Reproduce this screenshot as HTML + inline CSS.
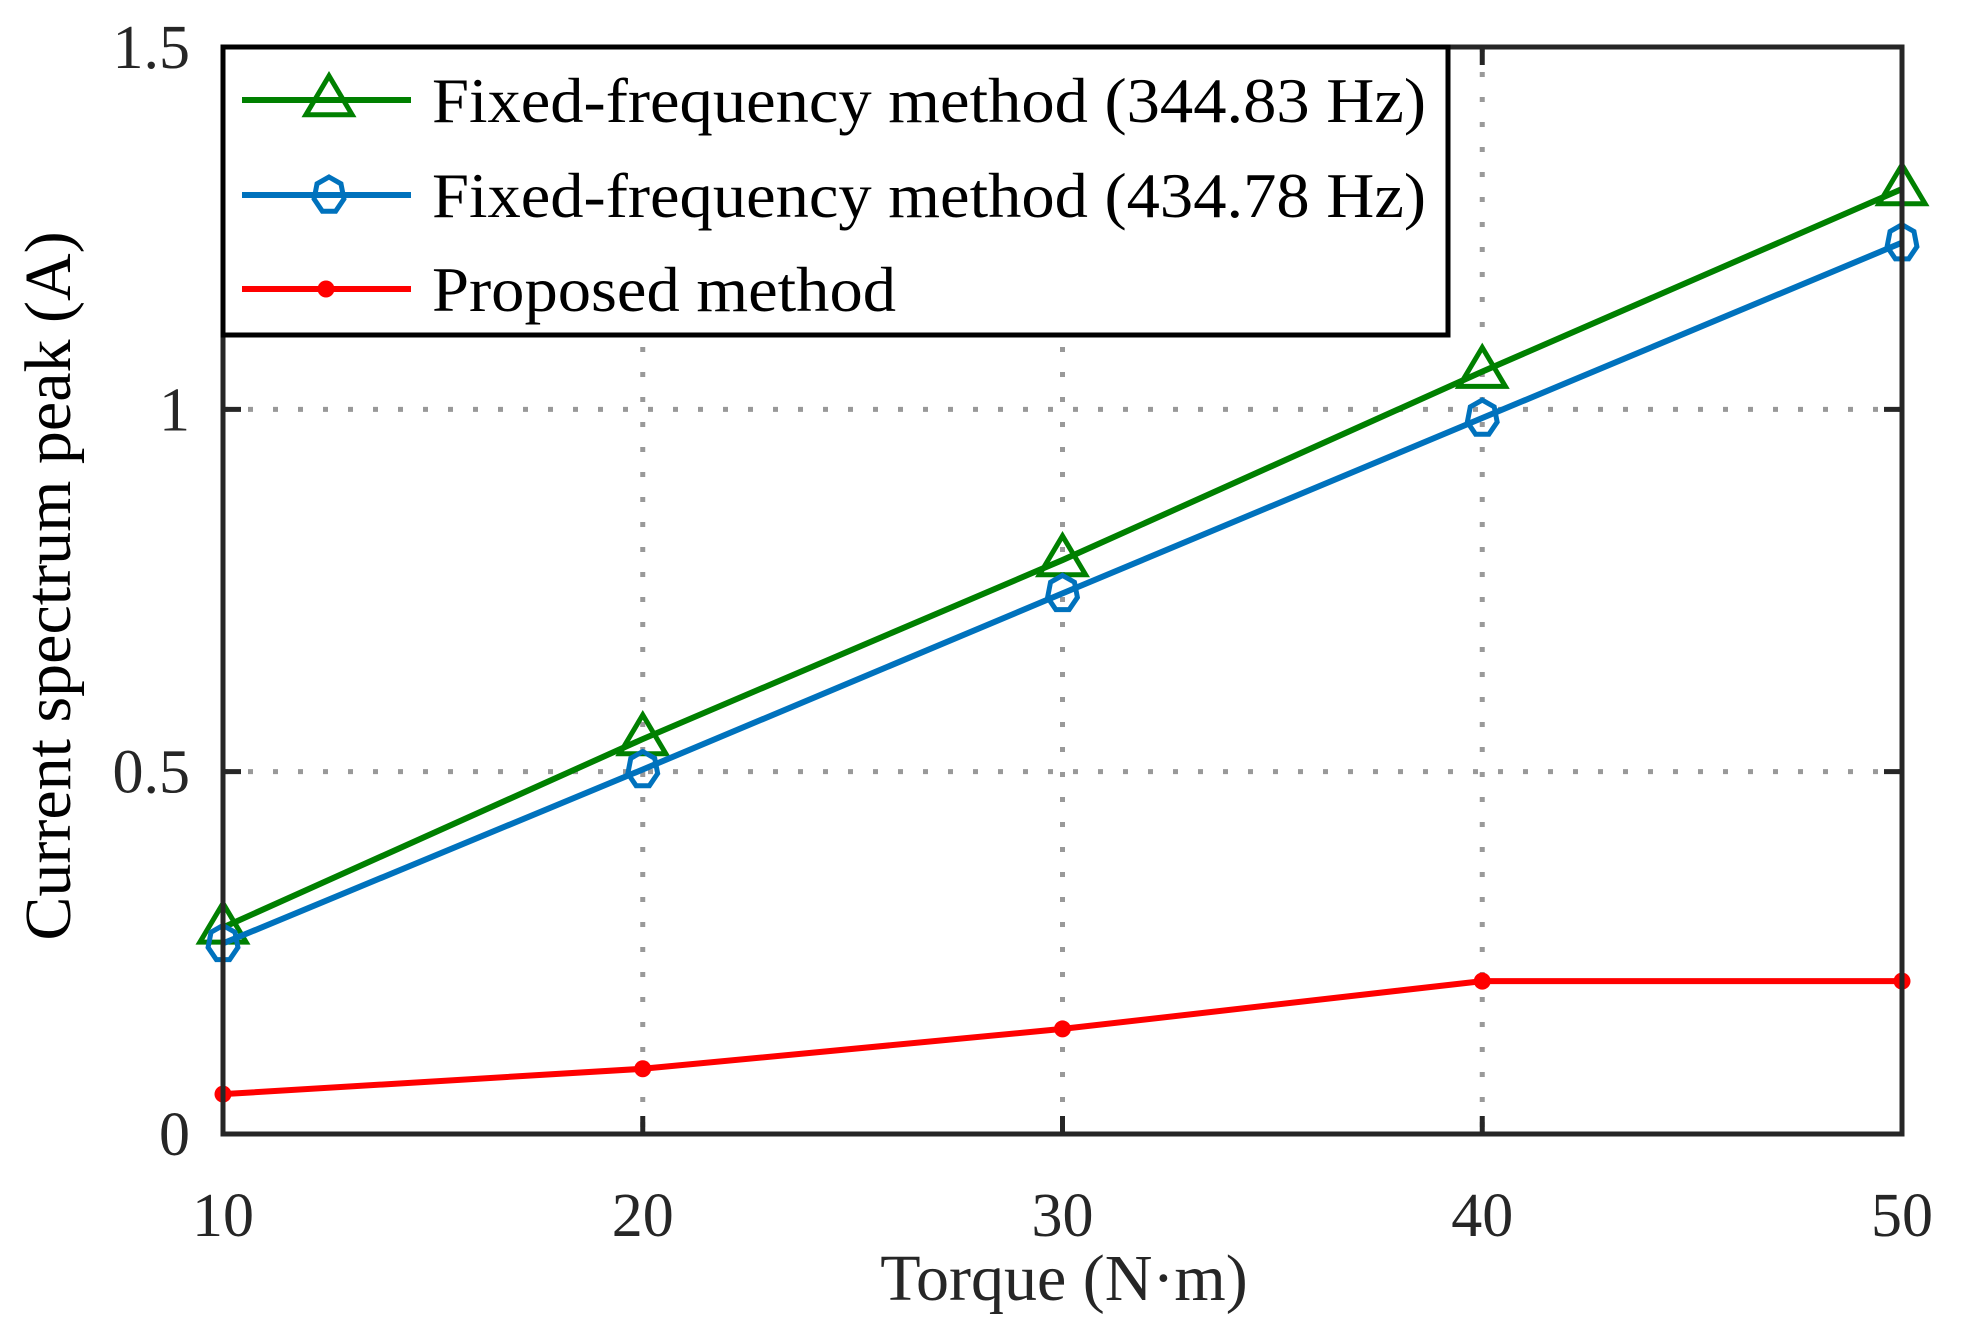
<!DOCTYPE html>
<html><head><meta charset="utf-8"><style>
html,body{margin:0;padding:0;background:#fff;}
svg{display:block;font-family:"Liberation Serif",serif;}
</style></head><body>
<svg id="chart" width="1964" height="1324" viewBox="0 0 1964 1324" xmlns="http://www.w3.org/2000/svg">
<g id="grid"></g>
<g id="series"></g>
<g id="axes"></g>
<g id="legend"></g>
</svg>
<script>
const categories = [10, 20, 30, 40, 50];
const green344 = [0.285, 0.545, 0.792, 1.052, 1.304];
const blue434 = [0.263, 0.503, 0.746, 0.988, 1.230];
const proposed = [0.055, 0.09, 0.145, 0.211, 0.211];
const xTicks = [10, 20, 30, 40, 50];
const yTicks = [0, 0.5, 1, 1.5];
const yTickLabels = ["0", "0.5", "1", "1.5"];

const NS = "http://www.w3.org/2000/svg";
const L = 223, R = 1902, T = 47, B = 1134;
const xS = v => L + (v - 10) / 40 * (R - L);
const yS = v => B - v / 1.5 * (B - T);
function mk(tag, attrs, parent) {
  const e = document.createElementNS(NS, tag);
  for (const k in attrs) e.setAttribute(k, attrs[k]);
  parent.appendChild(e);
  return e;
}
const grid = document.getElementById('grid');
const axes = document.getElementById('axes');
const series = document.getElementById('series');
const legend = document.getElementById('legend');

xTicks.forEach(t => {
  if (t > 10 && t < 50) {
    const g = mk('line', {x1: xS(t), x2: xS(t), y1: T, y2: B, stroke: '#999', 'stroke-width': 5, 'stroke-dasharray': '5 20'}, grid);
    
    
  }
  const tk = mk('path', {d: `M${xS(t)},${B} v-18 M${xS(t)},${T} v18`, stroke: '#262626', 'stroke-width': 5}, axes);
  
  
  const lb = mk('text', {x: xS(t), y: 1236, 'font-size': 62, 'text-anchor': 'middle', fill: '#262626'}, axes);
  lb.textContent = t;
  
  
});
yTicks.forEach((t, i) => {
  if (t > 0 && t < 1.5) {
    const g = mk('line', {x1: L, x2: R, y1: yS(t), y2: yS(t), stroke: '#999', 'stroke-width': 5, 'stroke-dasharray': '5 20'}, grid);
    
    
  }
  const tk = mk('path', {d: `M${L},${yS(t)} h18 M${R},${yS(t)} h-18`, stroke: '#262626', 'stroke-width': 5}, axes);
  
  
  const lb = mk('text', {x: 190, y: yS(t) + 21, 'font-size': 62, 'text-anchor': 'end', fill: '#262626'}, axes);
  lb.textContent = yTickLabels[i];
  
  
});
const frame = mk('rect', {x: L, y: T, width: R - L, height: B - T, fill: 'none', stroke: '#262626', 'stroke-width': 5}, axes);


const xt = mk('text', {x: 1064, y: 1300, 'font-size': 66, 'text-anchor': 'middle', fill: '#262626'}, axes);
xt.textContent = 'Torque (N·m)';


const yt = mk('text', {x: 0, y: 0, 'font-size': 66, 'text-anchor': 'middle', fill: '#000', transform: 'translate(70,586) rotate(-90)'}, axes);
yt.textContent = 'Current spectrum peak (A)';



function tri(x, y, p, color) {
  const s = 21;
  return mk('polygon', {points: `${x},${y - s * 1.15} ${x - s * 1.1},${y + s * 0.7} ${x + s * 1.1},${y + s * 0.7}`, fill: 'none', stroke: color, 'stroke-width': 5}, p);
}
function hept(x, y, p, color) {
  const r = 18, pts = [];
  for (let k = 0; k < 7; k++) { const a = -Math.PI / 2 + k * 2 * Math.PI / 7; pts.push((x + r * 0.85 * Math.cos(a)) + ',' + (y + r * Math.sin(a))); }
  return mk('polygon', {points: pts.join(' '), fill: 'none', stroke: color, 'stroke-width': 5}, p);
}
function dot(x, y, p, color) {
  return mk('circle', {cx: x, cy: y, r: 8.5, fill: color}, p);
}
const defs = [
  {vals: green344, color: '#008000', m: tri, name: 'fixed-344hz'},
  {vals: blue434, color: '#0072BD', m: hept, name: 'fixed-434hz'},
  {vals: proposed, color: '#FF0000', m: dot, name: 'proposed'}
];
defs.forEach(d => {
  const pl = mk('polyline', {points: categories.map((c, i) => xS(c) + ',' + yS(d.vals[i])).join(' '), fill: 'none', stroke: d.color, 'stroke-width': 6}, series);
  
  
  categories.forEach((c, i) => {
    const m = d.m(xS(c), yS(d.vals[i]), series, d.color);
    
    
  });
});

const lbox = mk('rect', {x: 223, y: 47, width: 1225, height: 288, fill: '#fff', stroke: '#000', 'stroke-width': 5}, legend);


const labels = ['Fixed-frequency method (344.83 Hz)', 'Fixed-frequency method (434.78 Hz)', 'Proposed method'];
const lens = [994, 994, 464];
const ly = [100, 195, 289];
defs.forEach((d, i) => {
  const ln = mk('line', {x1: 242, x2: 411, y1: ly[i], y2: ly[i], stroke: d.color, 'stroke-width': 6}, legend);
  
  
  const mm = d.m(i === 2 ? 326 : 329, ly[i], legend, d.color);
  
  
  const tx = mk('text', {x: 432, y: ly[i] + 22, 'font-size': 64, fill: '#000', textLength: lens[i], lengthAdjust: 'spacingAndGlyphs'}, legend);
  tx.textContent = labels[i];
  
  
});
</script>
</body></html>
